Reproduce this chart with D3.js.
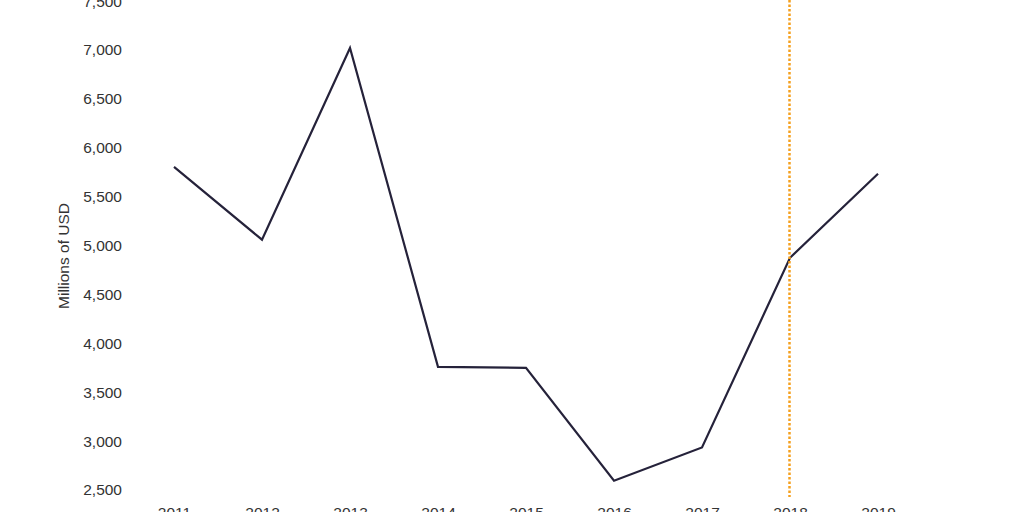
<!DOCTYPE html>
<html>
<head>
<meta charset="utf-8">
<script src="https://cdn.jsdelivr.net/npm/d3@7"></script>
<style>
  body { margin: 0; background: #fff; }
  svg { display: block; }
</style>
</head>
<body>
<div id="chart"></div>
<script>
// values, millions of USD
var years = [2011, 2012, 2013, 2014, 2015, 2016, 2017, 2018, 2019];
var values = [5805, 5060, 7020, 3760, 3750, 2595, 2935, 4875, 5735];
var yTicks = [2500, 3000, 3500, 4000, 4500, 5000, 5500, 6000, 6500, 7000, 7500];
var markerYear = [2018];

var width = 1024, height = 512;

var svg = d3.select("#chart")
    .append("svg")
    .attr("width", width)
    .attr("height", height);

var x = d3.scalePoint()
    .domain(years)
    .range([174, 878]);

var y = d3.scaleLinear()
    .domain([2500, 7000])
    .range([490, 50]);

var font = "'Liberation Sans', Arial, sans-serif";
var textColor = "#333";

// y axis, labels only
var yAxis = d3.axisLeft(y)
    .tickValues(yTicks)
    .tickFormat(d3.format(","))
    .tickSize(0)
    .tickPadding(0);

svg.append("g")
    .attr("transform", "translate(122,0)")
    .call(yAxis)
    .call(function (g) { g.select(".domain").remove(); })
    .selectAll("text")
    .attr("font-family", font)
    .attr("font-size", 15.5)
    .attr("fill", textColor);

// x axis, labels only (cut off at the bottom like the reference)
var xAxis = d3.axisBottom(x)
    .tickSize(0)
    .tickPadding(0)
    .tickFormat(d3.format("d"));

svg.append("g")
    .attr("transform", "translate(0,507)")
    .call(xAxis)
    .call(function (g) { g.select(".domain").remove(); })
    .selectAll("text")
    .attr("font-family", font)
    .attr("font-size", 15.5)
    .attr("fill", textColor);

svg.append("text")
    .attr("transform", "translate(69,256) rotate(-90)")
    .attr("text-anchor", "middle")
    .attr("font-family", font)
    .attr("font-size", 15.5)
    .attr("fill", textColor)
    .text("Millions of USD");

var line = d3.line()
    .x(function (d, i) { return x(years[i]); })
    .y(function (d) { return y(d); });

svg.append("path")
    .datum(values)
    .attr("d", line)
    .attr("fill", "none")
    .attr("stroke", "#25223a")
    .attr("stroke-width", 2.2)
    .attr("stroke-linejoin", "miter");

// dotted marker line
svg.selectAll(".marker")
    .data(markerYear)
    .enter()
    .append("line")
    .attr("class", "marker")
    .attr("x1", function (d) { return x(d) - 0.5; })
    .attr("x2", function (d) { return x(d) - 0.5; })
    .attr("y1", 0)
    .attr("y2", 497)
    .attr("stroke", "#f5a01e")
    .attr("stroke-width", 2.5)
    .attr("stroke-dasharray", "2.5,2");
</script>
</body>
</html>
